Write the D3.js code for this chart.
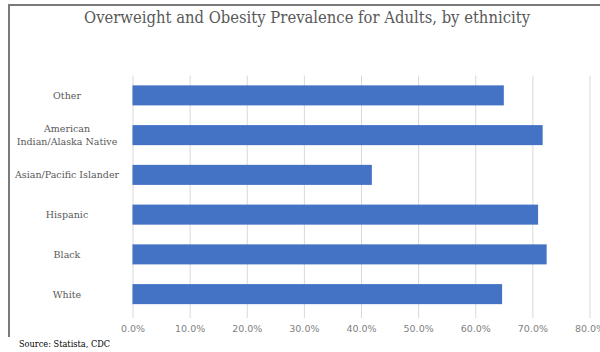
<!DOCTYPE html>
<html>
<head>
<meta charset="utf-8">
<script src="https://cdn.jsdelivr.net/npm/d3@7"></script>
<style>
  html, body { margin: 0; padding: 0; background: #fff; }
  svg { display: block; }
  .serif { font-family: "DejaVu Serif", "Liberation Serif", serif; }
  .sans { font-family: "DejaVu Sans", Verdana, sans-serif; }
</style>
</head>
<body>
<svg id="chart" width="600" height="352"></svg>
<script>
// Overweight/obesity prevalence among adults, by ethnicity (share of adults)
const categories = ["Other", "American Indian/Alaska Native", "Asian/Pacific Islander", "Hispanic", "Black", "White"];
const categoryLines = [["Other"], ["American", "Indian/Alaska Native"], ["Asian/Pacific Islander"], ["Hispanic"], ["Black"], ["White"]];
const prevalence = [0.650, 0.718, 0.419, 0.710, 0.725, 0.647];
const tickValues = [0, 0.1, 0.2, 0.3, 0.4, 0.5, 0.6, 0.7, 0.8];
const titleText = "Overweight and Obesity Prevalence for Adults, by ethnicity";
const sourceText = "Source: Statista, CDC";

const svg = d3.select("#chart");
const W = 600, H = 352;
const plot = { left: 132.5, right: 589.5, top: 75.5, bottom: 314 };

const x = d3.scaleLinear().domain([0, 0.8]).range([plot.left, plot.right]);
const y = d3.scaleBand().domain(categories).range([plot.top, plot.bottom]).paddingInner(0.496).paddingOuter(0.248);

// frame edges
svg.append("line").attr("x1", 8).attr("x2", W).attr("y1", 5).attr("y2", 5)
  .attr("stroke", "#7a7a7a").attr("stroke-width", 2);
svg.append("line").attr("x1", 9).attr("x2", 9).attr("y1", 4).attr("y2", 337)
  .attr("stroke", "#7a7a7a").attr("stroke-width", 2);

// title
svg.append("text")
  .attr("class", "serif")
  .attr("x", 307).attr("y", 23)
  .attr("text-anchor", "middle")
  .attr("font-size", 17)
  .attr("fill", "#595959")
  .attr("textLength", 446).attr("lengthAdjust", "spacingAndGlyphs")
  .text(titleText);

// vertical gridlines with the axis
const xAxis = d3.axisBottom(x)
  .tickValues(tickValues)
  .tickFormat(d3.format(".1%"))
  .tickSize(plot.bottom - plot.top + 4)
  .tickPadding(7);

const gx = svg.append("g")
  .attr("transform", `translate(0,${plot.top})`)
  .call(xAxis)
  .attr("font-family", null);
gx.select(".domain").remove();
gx.selectAll(".tick line").attr("stroke", "#d9d9d9").attr("stroke-width", 1);
gx.selectAll(".tick text")
  .attr("class", "sans")
  .attr("font-size", 9.5)
  .attr("fill", "#7f7f7f");

// bars
svg.append("g").selectAll("rect")
  .data(categories)
  .join("rect")
  .attr("x", x(0))
  .attr("y", d => y(d))
  .attr("width", (d, i) => x(prevalence[i]) - x(0))
  .attr("height", y.bandwidth())
  .attr("fill", "#4472c4");

// category labels
const labels = svg.append("g").selectAll("text")
  .data(categories)
  .join("text")
  .attr("class", "serif")
  .attr("x", 67)
  .attr("y", d => y(d) + y.bandwidth() / 2)
  .attr("text-anchor", "middle")
  .attr("font-size", 9.5)
  .attr("fill", "#595959");
labels.each(function (d, i) {
  const lines = categoryLines[i];
  const lh = 13;
  const start = -((lines.length - 1) * lh) / 2;
  d3.select(this).selectAll("tspan")
    .data(lines)
    .join("tspan")
    .attr("x", 67)
    .attr("dy", (l, j) => j === 0 ? start + 3.5 : lh)
    .text(l => l);
});

// source note
svg.append("text")
  .attr("class", "serif")
  .attr("x", 19).attr("y", 347)
  .attr("font-size", 9.5)
  .attr("fill", "#000")
  .attr("textLength", 91).attr("lengthAdjust", "spacingAndGlyphs")
  .text(sourceText);
</script>
</body>
</html>
